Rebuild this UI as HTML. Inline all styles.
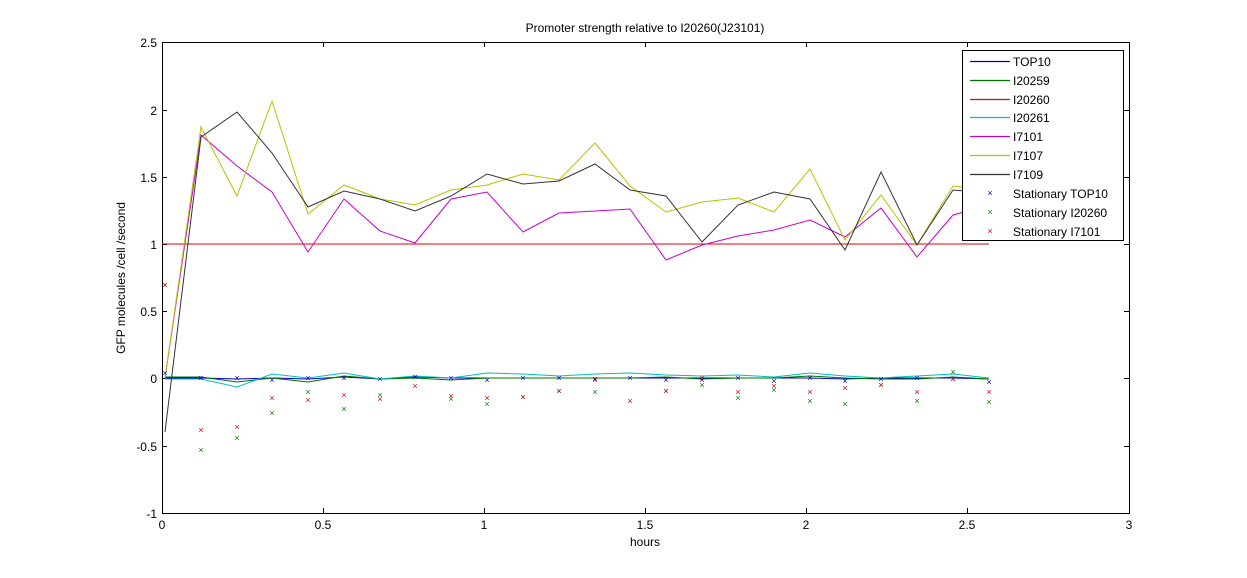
<!DOCTYPE html>
<html><head><meta charset="utf-8"><style>
body{margin:0;background:#fff;}
svg{display:block;font-family:"Liberation Sans",sans-serif;}
</style></head><body>
<svg width="1247" height="578" xmlns="http://www.w3.org/2000/svg">
<rect x="0" y="0" width="1247" height="578" fill="#fff"/>
<text x="645" y="32" font-size="12" text-anchor="middle">Promoter strength relative to I20260(J23101)</text>
<g stroke="#000" stroke-width="1" fill="none">
<rect x="162.5" y="42.5" width="967" height="471"/>
<path d="M162.5 42v5M162.5 513v-5M323.5 42v5M323.5 513v-5M484.5 42v5M484.5 513v-5M645.5 42v5M645.5 513v-5M806.5 42v5M806.5 513v-5M967.5 42v5M967.5 513v-5M1129.5 42v5M1129.5 513v-5"/>
<path d="M162 42.5h5M1129 42.5h-5M162 110.5h5M1129 110.5h-5M162 177.5h5M1129 177.5h-5M162 244.5h5M1129 244.5h-5M162 311.5h5M1129 311.5h-5M162 378.5h5M1129 378.5h-5M162 446.5h5M1129 446.5h-5M162 513.5h5M1129 513.5h-5"/>
</g>
<g font-size="12" text-anchor="end">
<text x="157" y="47">2.5</text><text x="157" y="115">2</text><text x="157" y="182">1.5</text><text x="157" y="249">1</text><text x="157" y="316">0.5</text><text x="157" y="383">0</text><text x="157" y="451">-0.5</text><text x="157" y="518">-1</text>
</g>
<g font-size="12" text-anchor="middle">
<text x="162" y="529">0</text><text x="323" y="529">0.5</text><text x="484" y="529">1</text><text x="645" y="529">1.5</text><text x="806" y="529">2</text><text x="967" y="529">2.5</text><text x="1129" y="529">3</text>
<text x="645" y="546">hours</text>
</g>
<text transform="translate(125,278) rotate(-90)" font-size="12" text-anchor="middle">GFP molecules /cell /second</text>

<g fill="none" stroke-width="1">
<polyline stroke="#00c" points="165,378 201,378 237,379 272,378 308,379 344,377 380,379 415,377 451,378 487,378 523,378 559,378 595,378 630,378 666,378 702,378 738,378 774,378 810,378 845,379 881,378 917,378 953,378 989,379"/>
<polyline stroke="#007000" points="165,377 201,377 237,382 272,378 308,382 344,376 380,379 415,378 451,380 487,378 523,378 559,378 595,378 630,378 666,377 702,379 738,378 774,378 810,376 845,378 881,379 917,379 953,377 989,379"/>
<polyline stroke="#00bfbf" points="165,379 201,379 237,387 272,374 308,378 344,373 380,379 415,376 451,378 487,373 523,374 559,376 595,374 630,373 666,375 702,376 738,375 774,377 810,373 845,376 881,378 917,376 953,374 989,378"/>
<polyline stroke="#d00" points="162,244 989,244"/>
<polyline stroke="#c0c" points="165,378 201,135 237,166 272,192 308,252 344,199 380,231 415,243 451,199 487,192 523,232 559,213 595,211 630,209 666,260 702,245 738,236 774,230 810,220 845,237 881,208 917,257 953,215 989,205"/>
<polyline stroke="#bfbf00" points="165,378 201,127 237,196 272,101 308,214 344,185 380,199 415,205 451,190 487,185 523,174 559,180 595,143 630,186 666,212 702,202 738,198 774,212 810,169 845,240 881,195 917,245 953,186 989,190"/>
<polyline stroke="#333" points="165,432 201,137 237,112 272,153 308,207 344,191 380,199 415,211 451,196 487,174 523,184 559,181 595,164 630,190 666,196 702,242 738,205 774,192 810,199 845,250 881,172 917,245 953,190 989,193"/>
</g>
<g font-size="9" text-anchor="middle">
<g fill="#00c">
<text x="165" y="376">×</text><text x="201" y="381">×</text><text x="237" y="381">×</text><text x="272" y="383">×</text><text x="308" y="381">×</text><text x="344" y="381">×</text><text x="380" y="382">×</text><text x="415" y="380">×</text><text x="451" y="381">×</text><text x="487" y="383">×</text><text x="523" y="381">×</text><text x="559" y="381">×</text><text x="595" y="382">×</text><text x="630" y="381">×</text><text x="666" y="383">×</text><text x="702" y="383">×</text><text x="738" y="381">×</text><text x="774" y="384">×</text><text x="810" y="381">×</text><text x="845" y="384">×</text><text x="881" y="382">×</text><text x="917" y="381">×</text><text x="953" y="382">×</text><text x="989" y="385">×</text>
</g>
<g fill="#008000">
<text x="165" y="288">×</text><text x="201" y="453">×</text><text x="237" y="441">×</text><text x="272" y="416">×</text><text x="308" y="395">×</text><text x="344" y="412">×</text><text x="380" y="398">×</text><text x="451" y="402">×</text><text x="487" y="407">×</text><text x="523" y="400">×</text><text x="559" y="394">×</text><text x="595" y="395">×</text><text x="666" y="394">×</text><text x="702" y="388">×</text><text x="738" y="401">×</text><text x="774" y="393">×</text><text x="810" y="404">×</text><text x="845" y="407">×</text><text x="881" y="388">×</text><text x="917" y="404">×</text><text x="953" y="375">×</text><text x="989" y="405">×</text>
</g>
<g fill="#d00">
<text x="165" y="288">×</text><text x="201" y="433">×</text><text x="237" y="430">×</text><text x="272" y="401">×</text><text x="308" y="403">×</text><text x="344" y="398">×</text><text x="380" y="402">×</text><text x="415" y="389">×</text><text x="451" y="399">×</text><text x="487" y="401">×</text><text x="523" y="400">×</text><text x="559" y="394">×</text><text x="595" y="383">×</text><text x="630" y="404">×</text><text x="666" y="394">×</text><text x="702" y="381">×</text><text x="738" y="395">×</text><text x="774" y="389">×</text><text x="810" y="395">×</text><text x="845" y="391">×</text><text x="881" y="388">×</text><text x="917" y="395">×</text><text x="953" y="382">×</text><text x="989" y="395">×</text>
</g>
</g>

<rect x="962.5" y="50.5" width="161" height="190" fill="#fff" stroke="#000"/>
<g stroke-width="1.3">
<line x1="970" y1="61.5" x2="1010" y2="61.5" stroke="#0000cc"/>
<line x1="970" y1="80.5" x2="1010" y2="80.5" stroke="#007000"/>
<line x1="970" y1="99.5" x2="1010" y2="99.5" stroke="#dd0000"/>
<line x1="970" y1="117.5" x2="1010" y2="117.5" stroke="#00bfbf"/>
<line x1="970" y1="136.5" x2="1010" y2="136.5" stroke="#cc00cc"/>
<line x1="970" y1="155.5" x2="1010" y2="155.5" stroke="#bfbf00"/>
<line x1="970" y1="174.5" x2="1010" y2="174.5" stroke="#333333"/>
</g>
<g font-size="12">
<text x="1013" y="66">TOP10</text>
<text x="1013" y="85">I20259</text>
<text x="1013" y="104">I20260</text>
<text x="1013" y="122">I20261</text>
<text x="1013" y="141">I7101</text>
<text x="1013" y="160">I7107</text>
<text x="1013" y="179">I7109</text>
<text x="1013" y="198">Stationary TOP10</text>
<text x="1013" y="217">Stationary I20260</text>
<text x="1013" y="236">Stationary I7101</text>
</g>
<g font-size="9" text-anchor="middle">
<text x="990" y="196" fill="#00c">×</text>
<text x="990" y="215" fill="#008000">×</text>
<text x="990" y="234" fill="#d00">×</text>
</g>
</svg>
</body></html>
